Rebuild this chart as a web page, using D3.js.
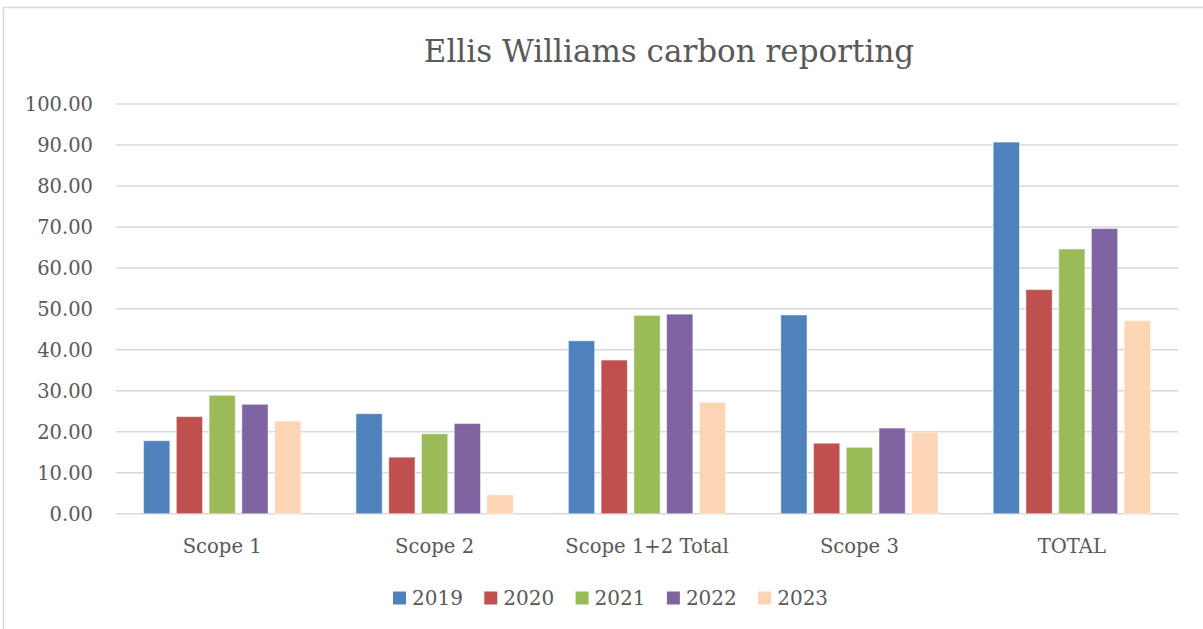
<!DOCTYPE html>
<html>
<head>
<meta charset="utf-8">
<script src="https://cdn.jsdelivr.net/npm/d3@7"></script>
<style>
  body { margin: 0; background: #fff; }
  svg { display: block; font-family: "DejaVu Serif", serif; }
</style>
</head>
<body>
<svg width="1203" height="629"></svg>
<script>
const categories = ['Scope 1', 'Scope 2', 'Scope 1+2 Total', 'Scope 3', 'TOTAL'];
const years = ['2019', '2020', '2021', '2022', '2023'];
const colors = ['#4f81bd', '#c0504d', '#9bbb59', '#8064a2', '#fcd5b5'];

// one array per year, in category order
const v2019 = [17.8, 24.4, 42.2, 48.5, 90.7];
const v2020 = [23.7, 13.8, 37.5, 17.2, 54.7];
const v2021 = [28.9, 19.5, 48.4, 16.2, 64.6];
const v2022 = [26.7, 22.0, 48.7, 20.9, 69.6];
const v2023 = [22.6, 4.6, 27.2, 19.9, 47.1];
const yTicks = [0, 10, 20, 30, 40, 50, 60, 70, 80, 90, 100];

const series = [v2019, v2020, v2021, v2022, v2023];

var svg = d3.select('svg');

// chart frame
svg.append('rect')
  .attr('x', 3.5).attr('y', 7.5)
  .attr('width', 1220).attr('height', 640)
  .attr('fill', 'none')
  .attr('stroke', '#d9d9d9')
  .attr('stroke-width', 1.5);

svg.append('text')
  .attr('x', 669).attr('y', 62)
  .attr('text-anchor', 'middle')
  .style('font-size', '31px')
  .style('fill', '#595959')
  .text('Ellis Williams carbon reporting');

const x0 = d3.scaleBand().domain(categories).range([116, 1178]).paddingInner(0.26).paddingOuter(0.13);
const x1 = d3.scaleBand().domain(years).range([0, x0.bandwidth()]).paddingInner(0.2);
const y = d3.scaleLinear().domain([0, 100]).range([513.7, 104]);

// gridlines
svg.append('g')
  .selectAll('line')
  .data(yTicks)
  .enter().append('line')
  .attr('x1', 116).attr('x2', 1178)
  .attr('y1', d => y(d)).attr('y2', d => y(d))
  .attr('stroke', '#d9d9d9')
  .attr('stroke-width', 1.5);

// y labels
svg.append('g')
  .selectAll('text')
  .data(yTicks)
  .enter().append('text')
  .attr('x', 93)
  .attr('y', d => y(d))
  .attr('dy', '0.36em')
  .attr('text-anchor', 'end')
  .style('font-size', '19.5px')
  .style('fill', '#595959')
  .text(d => d3.format('.2f')(d));

// bars
const group = svg.selectAll('.year')
  .data(series)
  .enter().append('g')
  .attr('class', 'year')
  .attr('fill', (d, i) => colors[i]);

group.selectAll('rect')
  .data((d, i) => d.map((v, j) => ({ cat: categories[j], year: years[i], value: v })))
  .enter().append('rect')
  .attr('x', d => x0(d.cat) + x1(d.year))
  .attr('width', x1.bandwidth())
  .attr('y', d => y(d.value))
  .attr('height', d => y(0) - y(d.value))
  .attr('stroke', '#ffffff')
  .attr('stroke-opacity', 0.45)
  .attr('stroke-width', 1);

// category labels
svg.append('g')
  .selectAll('text')
  .data(categories)
  .enter().append('text')
  .attr('x', d => x0(d) + x0.bandwidth() / 2)
  .attr('y', 553)
  .attr('text-anchor', 'middle')
  .style('font-size', '19.6px')
  .style('fill', '#595959')
  .text(d => d);

// legend
const legend = svg.append('g')
  .selectAll('g')
  .data(years)
  .enter().append('g')
  .attr('transform', (d, i) => 'translate(' + (393 + i * 91.3) + ',598)');

legend.append('rect')
  .attr('x', 0).attr('y', -6.5)
  .attr('width', 13).attr('height', 13)
  .attr('fill', (d, i) => colors[i]);

legend.append('text')
  .attr('x', 19)
  .attr('dy', '0.36em')
  .style('font-size', '20px')
  .style('fill', '#595959')
  .text(d => d);
</script>
</body>
</html>
